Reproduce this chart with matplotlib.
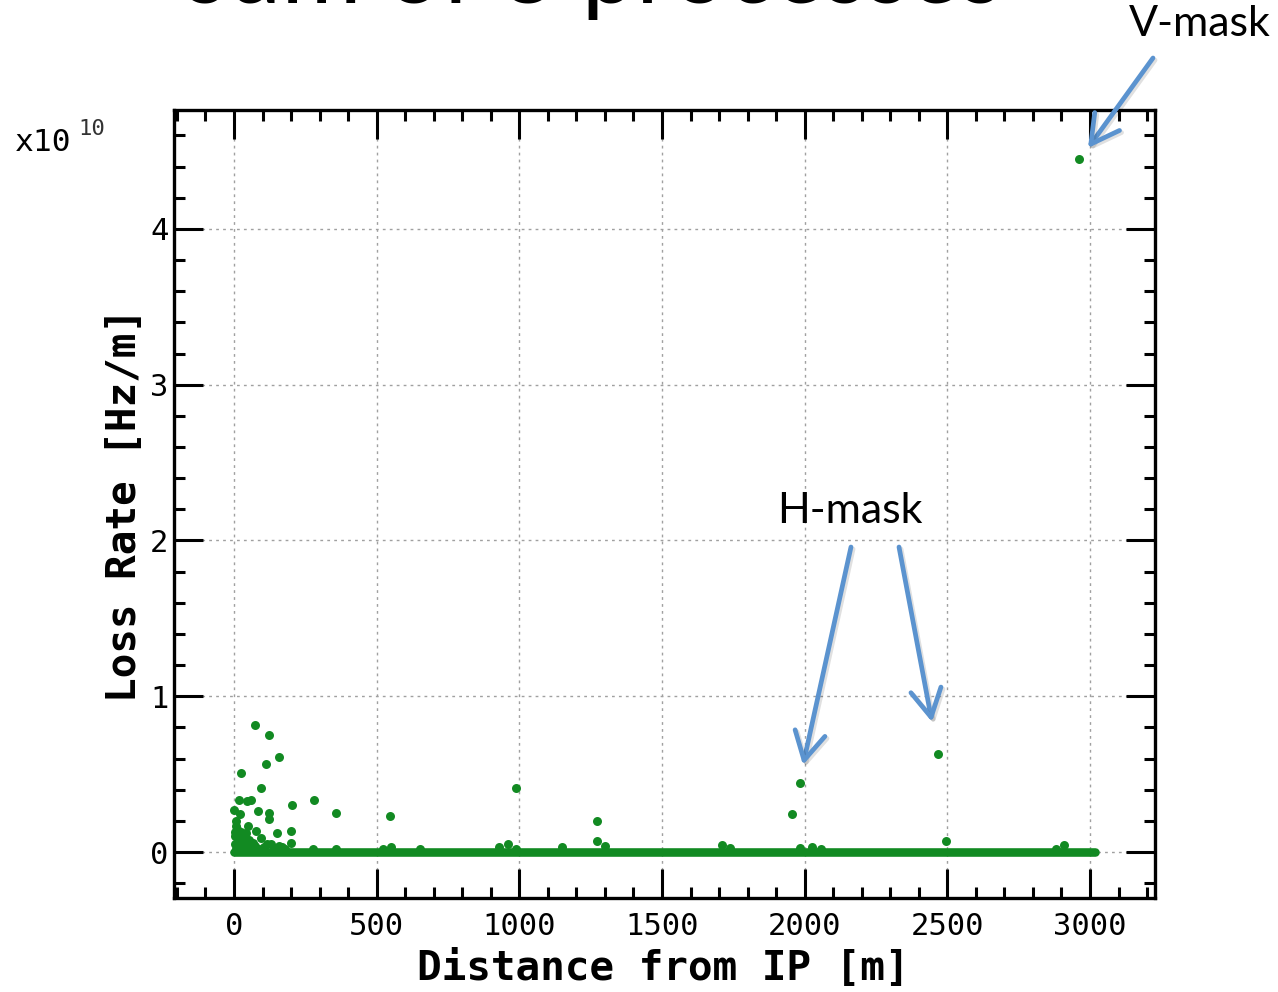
import matplotlib
matplotlib.use("Agg")
import matplotlib.pyplot as plt
import matplotlib.patheffects as pe
from matplotlib.ticker import MultipleLocator

# loss points (distance [m], loss rate in units of 1e10 Hz/m)
spike_x = [72, 122, 158, 112, 24, 94, 19, 47, 59, 1, 20, 83, 123, 123, 205, 279, 356, 547,
           151, 199, 77, 48, 94, 7, 7, 129, 158, 199,
           3, 5, 10, 12, 15, 18, 22, 26, 30, 34, 38, 42, 46, 52, 56, 62, 68, 75, 88, 104,
           115, 140, 170, 180, 2, 8, 28,
           276, 356, 523, 552, 651, 930, 959, 987, 987, 1151, 1273, 1273, 1300,
           1709, 1740, 1954, 1984, 1984, 2027, 2059, 2466, 2496, 2881, 2909, 2963]
spike_y = [0.813, 0.749, 0.611, 0.568, 0.504, 0.411, 0.336, 0.326, 0.336, 0.272, 0.245, 0.262,
           0.251, 0.209, 0.302, 0.336, 0.251, 0.230,
           0.123, 0.134, 0.134, 0.166, 0.091, 0.166, 0.198, 0.049, 0.038, 0.060,
           0.10, 0.13, 0.15, 0.06, 0.11, 0.03, 0.08, 0.13, 0.05, 0.10, 0.07, 0.12, 0.04, 0.08,
           0.05, 0.03, 0.06, 0.04, 0.02, 0.03, 0.05, 0.02, 0.03, 0.02, 0.05, 0.02, 0.02,
           0.021, 0.021, 0.021, 0.032, 0.021, 0.032, 0.053, 0.021, 0.411, 0.032, 0.198, 0.070, 0.038,
           0.046, 0.023, 0.243, 0.445, 0.023, 0.030, 0.020, 0.628, 0.071, 0.020, 0.043, 4.45]

# dense row of zero-loss elements along the beamline
baseline_x = [0, 3018]
baseline_y = [0, 0]

x_ticks = [0, 500, 1000, 1500, 2000, 2500, 3000]
y_ticks = [0, 1, 2, 3, 4]

green = "#128a22"
blue = "#5b93cf"
mono = "DejaVu Sans Mono"

fig = plt.figure(figsize=(12.78, 9.92), dpi=100)
ax = fig.add_axes([0.1362, 0.0948, 0.7676, 0.7944])

ax.plot(baseline_x, baseline_y, color=green, linewidth=6.2, solid_capstyle="round", zorder=3)
ax.scatter(spike_x, spike_y, s=42, color=green, linewidths=0, zorder=4)

ax.set_xlim(-210, 3228)
ax.set_ylim(-0.295, 4.764)
ax.set_xticks(x_ticks)
ax.set_yticks(y_ticks)
ax.xaxis.set_minor_locator(MultipleLocator(100))
ax.yaxis.set_minor_locator(MultipleLocator(0.2))
ax.tick_params(which="both", direction="in", top=True, right=True, width=2.2)
ax.tick_params(which="major", length=21)
ax.tick_params(which="minor", length=8)
ax.tick_params(axis="x", which="major", pad=10, labelsize=22)
ax.tick_params(axis="y", which="major", pad=4, labelsize=22)
for lab in ax.get_xticklabels() + ax.get_yticklabels():
    lab.set_family(mono)
for s in ax.spines.values():
    s.set_linewidth(2.4)
ax.grid(True, which="major", linestyle=(0, (2, 3)), color="#a0a0a0", linewidth=1.0)
ax.set_axisbelow(True)

fig.text(663 / 1278, 1 - 968 / 992, "Distance from IP [m]", family=mono, weight="bold",
         fontsize=29.5, ha="center", va="center")
fig.text(124 / 1278, 1 - 505 / 992, "Loss Rate [Hz/m]", family=mono, weight="bold",
         fontsize=29.5, ha="center", va="center", rotation=90)

# multiplier label
fig.text(15 / 1278, 1 - 151 / 992, "x10", family=mono, fontsize=22.5, ha="left", va="baseline")
fig.text(78 / 1278, 1 - 135 / 992, "10", family=mono, fontsize=16, color="#333333",
         ha="left", va="baseline")

# slide title, cut off by the top edge as in the slide
fig.text(594 / 1278, 1 - 3 / 992, "sum of 3 processes", family="Lato", fontsize=70,
         ha="center", va="baseline")

fig.text(1200 / 1278, 1 - 24 / 992, "V-mask", family="Lato", fontsize=31, ha="center", va="center")
fig.text(850 / 1278, 1 - 511 / 992, "H-mask", family="Lato", fontsize=31, ha="center", va="center")

arrows = [((1153, 58), (1088, 148)), ((851, 547), (803, 765)), ((899, 547), (932, 722))]
for start, end in arrows:
    a = ax.annotate("", xy=(end[0], 992 - end[1]), xytext=(start[0], 992 - start[1]),
                    xycoords="figure pixels", textcoords="figure pixels",
                    arrowprops=dict(arrowstyle="->,head_length=1.0,head_width=0.55",
                                    color=blue, lw=3.4, mutation_scale=20,
                                    shrinkA=0, shrinkB=0),
                    annotation_clip=False, zorder=6)
    a.arrow_patch.set_path_effects([pe.SimpleLineShadow(offset=(1.5, -1.5), alpha=0.12),
                                    pe.Normal()])

fig.savefig("out.png", dpi=100)
